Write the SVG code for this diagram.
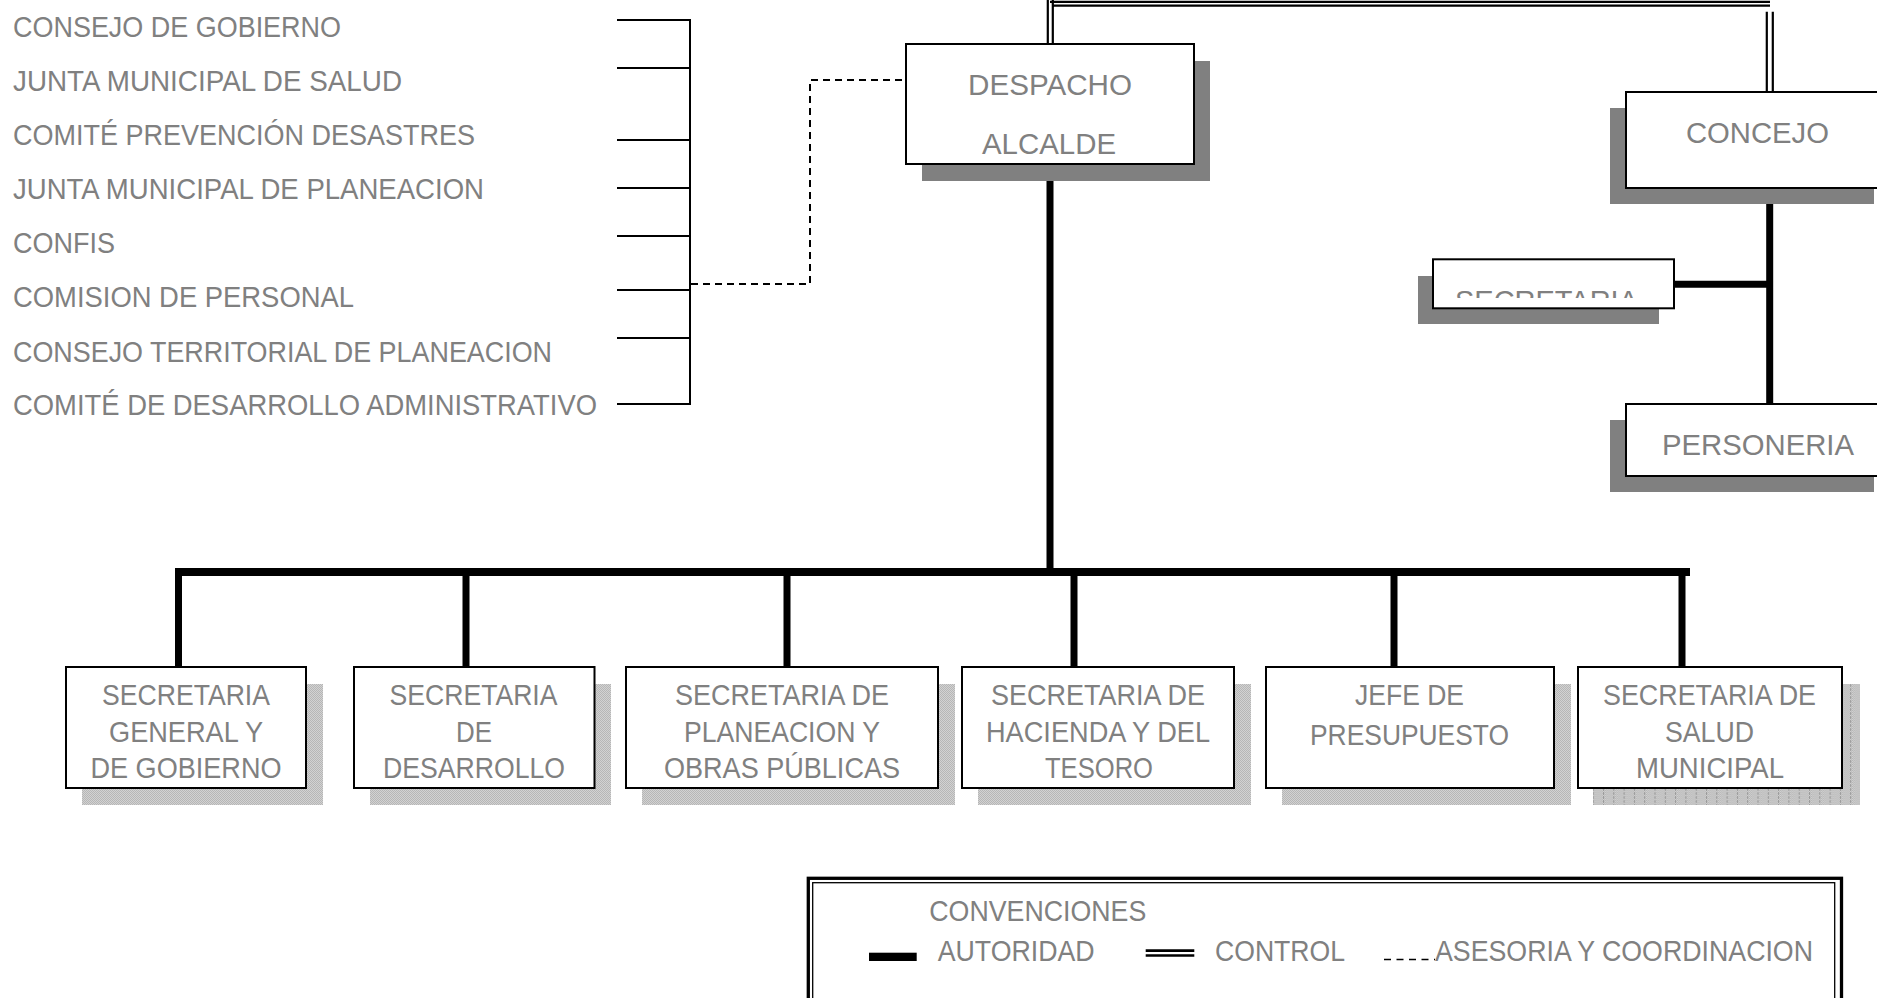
<svg xmlns="http://www.w3.org/2000/svg" width="1877" height="998" viewBox="0 0 1877 998">
<style>
.t{font-family:"Liberation Sans",Arial,sans-serif;font-size:29px;fill:#808080}
.m{text-anchor:middle}
.box{fill:#fff;stroke:#000;stroke-width:2}
.sh{fill:#808080}
.sh2{fill:url(#dither)}
.auth{stroke:#000;stroke-width:7;fill:none}
.ctl{stroke:#000;stroke-width:2.2;fill:none}
.adv{stroke:#000;stroke-width:2;fill:none;stroke-dasharray:7 5}
.thin{stroke:#000;stroke-width:2;fill:none}
</style>
<defs>
<pattern id="dither" width="2" height="2" patternUnits="userSpaceOnUse">
<rect width="2" height="2" fill="#d2d2d2"/>
<rect width="1" height="1" fill="#b6b6b6"/>
<rect x="1" y="1" width="1" height="1" fill="#b6b6b6"/>
</pattern>
<pattern id="stripes" x="1603" y="0" width="10.3" height="4" patternUnits="userSpaceOnUse">
<rect width="10.3" height="4" fill="url(#dither)"/>
<rect width="1" height="3" fill="#9a9a9a"/>
</pattern>
<clipPath id="secClip"><rect x="1434" y="260" width="239" height="38"/></clipPath>
</defs>
<rect width="1877" height="998" fill="#fff"/>

<g id="comites">
<text class="t" x="13" y="36.7" textLength="328" lengthAdjust="spacingAndGlyphs">CONSEJO DE GOBIERNO</text>
<text class="t" x="13" y="90.7" textLength="389" lengthAdjust="spacingAndGlyphs">JUNTA MUNICIPAL DE SALUD</text>
<text class="t" x="13" y="145" textLength="462" lengthAdjust="spacingAndGlyphs">COMITÉ PREVENCIÓN DESASTRES</text>
<text class="t" x="13" y="199.3" textLength="471" lengthAdjust="spacingAndGlyphs">JUNTA MUNICIPAL DE PLANEACION</text>
<text class="t" x="13" y="253.3" textLength="102" lengthAdjust="spacingAndGlyphs">CONFIS</text>
<text class="t" x="13" y="307.3" textLength="341" lengthAdjust="spacingAndGlyphs">COMISION DE PERSONAL</text>
<text class="t" x="13" y="361.7" textLength="539" lengthAdjust="spacingAndGlyphs">CONSEJO TERRITORIAL DE PLANEACION</text>
<text class="t" x="13" y="415" textLength="584" lengthAdjust="spacingAndGlyphs">COMITÉ DE DESARROLLO ADMINISTRATIVO</text>
</g>

<g id="connectors">
<path class="thin" d="M617 20H690M617 68H690M617 140H690M617 188H690M617 236H690M617 290H690M617 338H690M617 404H690M690 19V405"/>
<path class="adv" d="M691 284H810V80H906"/>
<path class="ctl" d="M1047.8 0V44M1052.8 0V44M1050 1.8H1770M1053 5.7H1770M1766.8 11.7V92M1772.8 11.7V92"/>
<path class="auth" d="M1050 164V572"/>
<path style="stroke:#000;stroke-width:8;fill:none" d="M175 572H1690"/>
<path class="auth" d="M178.5 572V667M466 572V667M787 572V667M1074 572V667M1394 572V667M1682 572V667"/>
<path class="auth" d="M1769.7 188V404M1674 284.3H1769.7"/>
</g>

<g id="despacho">
<rect class="sh" x="922" y="61" width="288" height="120"/>
<rect class="box" x="906" y="44" width="288" height="120"/>
<text class="t m" x="1050" y="95" textLength="164" lengthAdjust="spacingAndGlyphs">DESPACHO</text>
<text class="t m" x="1049" y="154" textLength="134" lengthAdjust="spacingAndGlyphs">ALCALDE</text>
</g>

<g id="concejo">
<rect class="sh" x="1610" y="108" width="264" height="96"/>
<rect class="box" x="1626" y="92" width="264" height="96"/>
<text class="t m" x="1757.5" y="143.3" textLength="143" lengthAdjust="spacingAndGlyphs">CONCEJO</text>
</g>

<g id="secretaria-concejo">
<rect class="sh" x="1418" y="276" width="241" height="48"/>
<rect class="box" x="1433" y="259.3" width="241" height="49"/>
<text class="t m" x="1546.5" y="311" textLength="183" lengthAdjust="spacingAndGlyphs" clip-path="url(#secClip)">SECRETARIA</text>
</g>

<g id="personeria">
<rect class="sh" x="1610" y="420" width="264" height="72"/>
<rect class="box" x="1626" y="404" width="264" height="72"/>
<text class="t m" x="1758" y="455" textLength="192" lengthAdjust="spacingAndGlyphs">PERSONERIA</text>
</g>

<g id="sec-general">
<rect class="sh2" x="82" y="684" width="241" height="121"/>
<rect class="box" x="66" y="667" width="240" height="121"/>
<text class="t m" x="186" y="705" textLength="168" lengthAdjust="spacingAndGlyphs">SECRETARIA</text>
<text class="t m" x="186" y="741.7" textLength="154" lengthAdjust="spacingAndGlyphs">GENERAL Y</text>
<text class="t m" x="186" y="778.3" textLength="191" lengthAdjust="spacingAndGlyphs">DE GOBIERNO</text>
</g>

<g id="sec-desarrollo">
<rect class="sh2" x="370" y="684" width="241" height="121"/>
<rect class="box" x="354" y="667" width="240.5" height="121"/>
<text class="t m" x="473.5" y="705" textLength="168" lengthAdjust="spacingAndGlyphs">SECRETARIA</text>
<text class="t m" x="474" y="741.7" textLength="36" lengthAdjust="spacingAndGlyphs">DE</text>
<text class="t m" x="474" y="778.3" textLength="182" lengthAdjust="spacingAndGlyphs">DESARROLLO</text>
</g>

<g id="sec-planeacion">
<rect class="sh2" x="642" y="684" width="313" height="121"/>
<rect class="box" x="626" y="667" width="312" height="121"/>
<text class="t m" x="782" y="705" textLength="214" lengthAdjust="spacingAndGlyphs">SECRETARIA DE</text>
<text class="t m" x="782" y="741.7" textLength="196" lengthAdjust="spacingAndGlyphs">PLANEACION Y</text>
<text class="t m" x="782" y="778.3" textLength="236" lengthAdjust="spacingAndGlyphs">OBRAS PÚBLICAS</text>
</g>

<g id="sec-hacienda">
<rect class="sh2" x="978" y="684" width="273" height="121"/>
<rect class="box" x="962" y="667" width="272" height="121"/>
<text class="t m" x="1098" y="705" textLength="214" lengthAdjust="spacingAndGlyphs">SECRETARIA DE</text>
<text class="t m" x="1098" y="741.7" textLength="224" lengthAdjust="spacingAndGlyphs">HACIENDA Y DEL</text>
<text class="t m" x="1099" y="778.3" textLength="108" lengthAdjust="spacingAndGlyphs">TESORO</text>
</g>

<g id="jefe-presupuesto">
<rect class="sh2" x="1282" y="684" width="289" height="121"/>
<rect class="box" x="1266" y="667" width="288" height="121"/>
<text class="t m" x="1409.5" y="705" textLength="109" lengthAdjust="spacingAndGlyphs">JEFE DE</text>
<text class="t m" x="1409.5" y="745" textLength="199" lengthAdjust="spacingAndGlyphs">PRESUPUESTO</text>
</g>

<g id="sec-salud">
<rect x="1593" y="684" width="267" height="121" fill="url(#stripes)"/>
<rect class="box" x="1578" y="667" width="264" height="121"/>
<text class="t m" x="1709.5" y="705" textLength="213" lengthAdjust="spacingAndGlyphs">SECRETARIA DE</text>
<text class="t m" x="1709.5" y="741.7" textLength="89" lengthAdjust="spacingAndGlyphs">SALUD</text>
<text class="t m" x="1710" y="778.3" textLength="148" lengthAdjust="spacingAndGlyphs">MUNICIPAL</text>
</g>

<g id="convenciones">
<rect x="808.3" y="878.3" width="1033.2" height="140" fill="none" stroke="#000" stroke-width="3.3"/>
<rect x="812.7" y="882.7" width="1022" height="140" fill="none" stroke="#000" stroke-width="1.3"/>
<text class="t" x="929.3" y="921" textLength="217" lengthAdjust="spacingAndGlyphs">CONVENCIONES</text>
<rect x="869" y="952.7" width="47.7" height="8.3" fill="#000"/>
<text class="t" x="937.7" y="961" textLength="157" lengthAdjust="spacingAndGlyphs">AUTORIDAD</text>
<path d="M1145.7 950.7H1194.3" stroke="#000" stroke-width="2.7"/>
<path d="M1145.7 955.5H1194.3" stroke="#000" stroke-width="2.4"/>
<text class="t" x="1215" y="961" textLength="130" lengthAdjust="spacingAndGlyphs">CONTROL</text>
<path d="M1384 959.5H1435" stroke="#000" stroke-width="1.5" stroke-dasharray="7 5.5"/>
<text class="t" x="1435" y="961" textLength="378" lengthAdjust="spacingAndGlyphs">ASESORIA Y COORDINACION</text>
</g>
</svg>
